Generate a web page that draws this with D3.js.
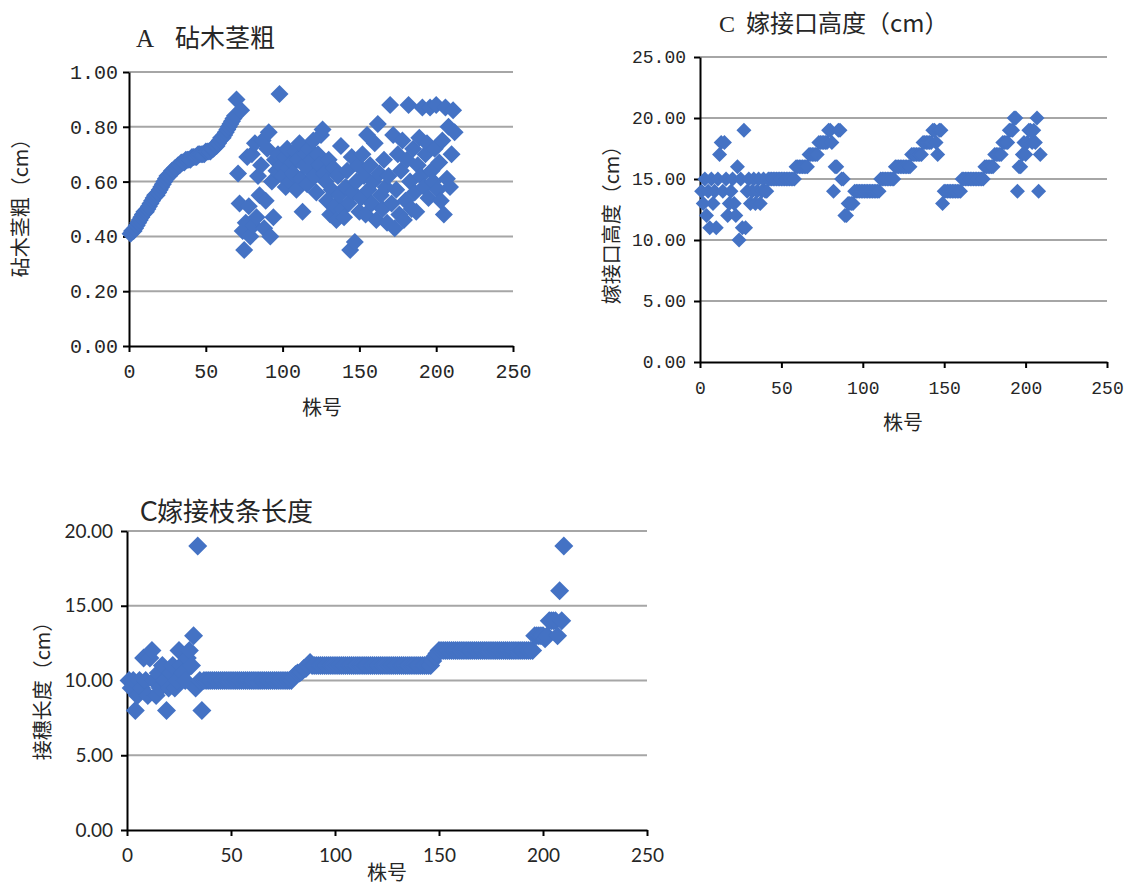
<!DOCTYPE html>
<html><head><meta charset="utf-8">
<script src="https://cdn.jsdelivr.net/npm/d3@7/dist/d3.min.js"></script>
<style>body{margin:0;background:#fff}</style>
</head><body>
<svg id="c" width="1125" height="888"></svg>
<script>
// ---------- data ----------
const xTicks = [0, 50, 100, 150, 200, 250];
const yTicksA = [0, 0.2, 0.4, 0.6, 0.8, 1.0];
const yTicksB = [0, 5, 10, 15, 20, 25];
const yTicksD = [0, 5, 10, 15, 20];

// A 砧木茎粗 (plant no. 1..212)
const valuesA = [
 .41,.42,.42,.43,.44,.45,.46,.47,.48,.49,
 .49,.50,.51,.52,.53,.54,.55,.55,.56,.57,
 .58,.59,.60,.61,.62,.62,.63,.64,.64,.65,
 .65,.66,.66,.67,.67,.67,.68,.68,.68,.68,
 .69,.69,.69,.69,.70,.70,.70,.70,.70,.71,
 .71,.71,.71,.72,.72,.73,.73,.74,.75,.76,
 .76,.77,.78,.79,.80,.81,.82,.83,.84,
 .90,.63,.52,.86,.42,.35,.45,.69,.51,.40,
 .70,.44,.74,.47,.62,.55,.66,.75,.43,.53,
 .72,.78,.40,.60,.47,.68,.64,.70,.92,.66,
 .62,.69,.58,.72,.65,.60,.67,.63,.71,.57,
 .68,.74,.61,.49,.66,.70,.59,.72,.64,.68,
 .75,.62,.56,.70,.66,.77,.79,.63,.60,.53,
 .68,.48,.57,.65,.51,.46,.62,.55,.73,.50,
 .47,.58,.64,.52,.35,.69,.56,.38,.60,.66,
 .49,.54,.70,.62,.48,.77,.57,.66,.52,.60,
 .74,.46,.81,.63,.55,.50,.68,.58,.45,.62,
 .88,.52,.77,.43,.57,.70,.48,.64,.75,.46,
 .53,.68,.88,.60,.50,.72,.56,.49,.66,.76,
 .62,.87,.58,.70,.74,.54,.87,.64,.60,.72,
 .88,.57,.67,.53,.75,.48,.87,.61,.80,.58,
 .70,.86,.78
];

// C 嫁接口高度 (plant no. 1..209)
const valuesB = [
 14,13,15,12,14,11,15,13,14,11,
 15,17,18,14,18,15,12,13,14,15,
 13,12,16,10,15,11,19,11,14,15,
 13,14,15,13,14,15,13,14,15,14,
 14,15,15,15,15,15,15,15,15,15,
 15,15,15,15,15,15,15,15,16,16,
 16,16,16,16,16,16,17,17,17,17,
 17,17,18,18,18,18,18,18,19,19,
 18,14,16,16,19,19,15,15,12,12,
 13,13,13,13,14,14,14,14,14,14,
 14,14,14,14,14,14,14,14,14,14,
 15,15,15,15,15,15,15,15,15,16,
 16,16,16,16,16,16,16,16,16,17,
 17,17,17,17,17,17,18,18,18,18,
 18,18,19,19,18,17,19,19,13,14,
 14,14,14,14,14,14,14,14,14,14,
 15,15,15,15,15,15,15,15,15,15,
 15,15,15,15,16,16,16,16,16,16,
 17,17,17,17,17,18,18,18,18,19,
 19,19,20,20,14,16,16,17,18,17,
 18,19,19,18,19,18,20,14,17
];

// C 嫁接枝条长度 (plant no. 1..210)
const valuesD = [
 10,9.5,10,8,9,10,9.5,11.5,10,9,
 11.5,12,10,9,10.5,9.5,11,10,8,9.5,
 10.5,11,9.5,10,12,11,10.5,10,11.5,12,
 11,13,9.5,19,10,8,10,10,10,10,
 10,10,10,10,10,10,10,10,10,10,
 10,10,10,10,10,10,10,10,10,10,
 10,10,10,10,10,10,10,10,10,10,
 10,10,10,10,10,10,10,10,10,10.2,
 10.4,10.5,10.5,10.6,10.8,10.8,11,11.2,11,11,
 11,11,11,11,11,11,11,11,11,11,
 11,11,11,11,11,11,11,11,11,11,
 11,11,11,11,11,11,11,11,11,11,
 11,11,11,11,11,11,11,11,11,11,
 11,11,11,11,11,11,11,11,11,11,
 11,11,11,11,11,11,11.3,11.6,11.8,12,
 12,12,12,12,12,12,12,12,12,12,
 12,12,12,12,12,12,12,12,12,12,
 12,12,12,12,12,12,12,12,12,12,
 12,12,12,12,12,12,12,12,12,12,
 12,12,12,12,12,13,13,13,13,13,
 12.8,13,14,14,14,14,13,16,14,19
];

// ---------- drawing ----------
const svg = d3.select('#c');
const BLUE = '#4472C4';
const GRID = '#A6A6A6';
const CJK = '"Noto Sans CJK SC", sans-serif';
const TXT = '#262626';

function panel(cfg) {
  const x = d3.scaleLinear().domain([0, 250]).range([cfg.left, cfg.right]);
  const y = d3.scaleLinear().domain([0, cfg.yMax]).range([cfg.bottom, cfg.top]);
  const g = svg.append('g');

  g.selectAll('line.grid').data(cfg.yTicks.filter(d => d > 0)).join('line')
    .attr('x1', cfg.left).attr('x2', cfg.right)
    .attr('y1', d => y(d)).attr('y2', d => y(d))
    .attr('stroke', GRID).attr('stroke-width', 2);

  const ya = g.append('g').attr('transform', `translate(${cfg.left},0)`)
    .call(d3.axisLeft(y).tickValues(cfg.yTicks).tickFormat(d3.format('.2f'))
      .tickSize(6).tickSizeOuter(0).tickPadding(cfg.yPad));
  const xa = g.append('g').attr('transform', `translate(0,${cfg.bottom})`)
    .call(d3.axisBottom(x).tickValues(xTicks).tickFormat(d3.format('d'))
      .tickSize(6).tickSizeOuter(0).tickPadding(cfg.xPad));
  [ya, xa].forEach(a => {
    a.select('.domain').attr('stroke', '#000').attr('stroke-width', 2);
    a.selectAll('.tick line').attr('stroke', '#000').attr('stroke-width', 2);
    a.selectAll('.tick text').attr('fill', TXT)
      .style('font-family', cfg.tickFont).style('font-size', cfg.tickSize + 'px');
  });

  const r = cfg.r;
  g.selectAll('path.pt').data(cfg.values).join('path')
    .attr('transform', (d, i) => `translate(${x(i + 1)},${y(d)})`)
    .attr('d', `M0,${-r}L${r},0L0,${r}L${-r},0Z`)
    .attr('fill', BLUE);

  // titles
  const t = g.append('text').attr('x', cfg.titleX).attr('y', cfg.titleY)
    .attr('fill', TXT).style('font-size', cfg.titleSize + 'px');
  t.append('tspan').text(cfg.titleLead).style('font-family', cfg.leadFont);
  t.append('tspan').attr('x', cfg.titleX2).text(cfg.titleMain).style('font-family', CJK);

  g.append('text').attr('x', cfg.xtX).attr('y', cfg.xtY).attr('text-anchor', 'middle')
    .attr('fill', TXT).style('font-family', CJK).style('font-size', '20px').text('株号');

  g.append('text').attr('transform', `translate(${cfg.ytX},${cfg.ytY}) rotate(-90)`)
    .attr('text-anchor', 'middle').attr('fill', TXT)
    .style('font-family', CJK).style('font-size', cfg.ytSize + 'px').text(cfg.yTitle);
}

panel({left: 129, right: 513, top: 72, bottom: 346, yMax: 1.0, yTicks: yTicksA,
  values: valuesA, r: 9, tickFont: '"Liberation Mono", monospace', tickSize: 20,
  yPad: 5, xPad: 12,
  titleLead: 'A', titleMain: '砧木茎粗', titleX: 136, titleX2: 175, titleY: 47, titleSize: 25,
  leadFont: '"Liberation Serif", serif',
  xtX: 322, xtY: 415, ytX: 28, ytY: 203, ytSize: 20, yTitle: '砧木茎粗（cm）'});

panel({left: 700, right: 1107, top: 57, bottom: 362, yMax: 25, yTicks: yTicksB,
  values: valuesB, r: 7.5, tickFont: '"Liberation Mono", monospace', tickSize: 18,
  yPad: 8, xPad: 13,
  titleLead: 'C', titleMain: '嫁接口高度（cm）', titleX: 719, titleX2: 746, titleY: 32, titleSize: 24,
  leadFont: '"Liberation Serif", serif',
  xtX: 903, xtY: 430, ytX: 619, ytY: 220, ytSize: 20, yTitle: '嫁接口高度（cm）'});

panel({left: 127, right: 647, top: 531, bottom: 830, yMax: 20, yTicks: yTicksD,
  values: valuesD, r: 9.5, tickFont: 'Lato, "Liberation Sans", sans-serif', tickSize: 19,
  yPad: 8, xPad: 13,
  titleLead: 'C', titleMain: '嫁接枝条长度', titleX: 140, titleX2: 157, titleY: 521, titleSize: 26,
  leadFont: 'Lato, sans-serif',
  xtX: 387, xtY: 880, ytX: 50, ytY: 686, ytSize: 20, yTitle: '接穗长度（cm）'});
</script>
</body></html>
